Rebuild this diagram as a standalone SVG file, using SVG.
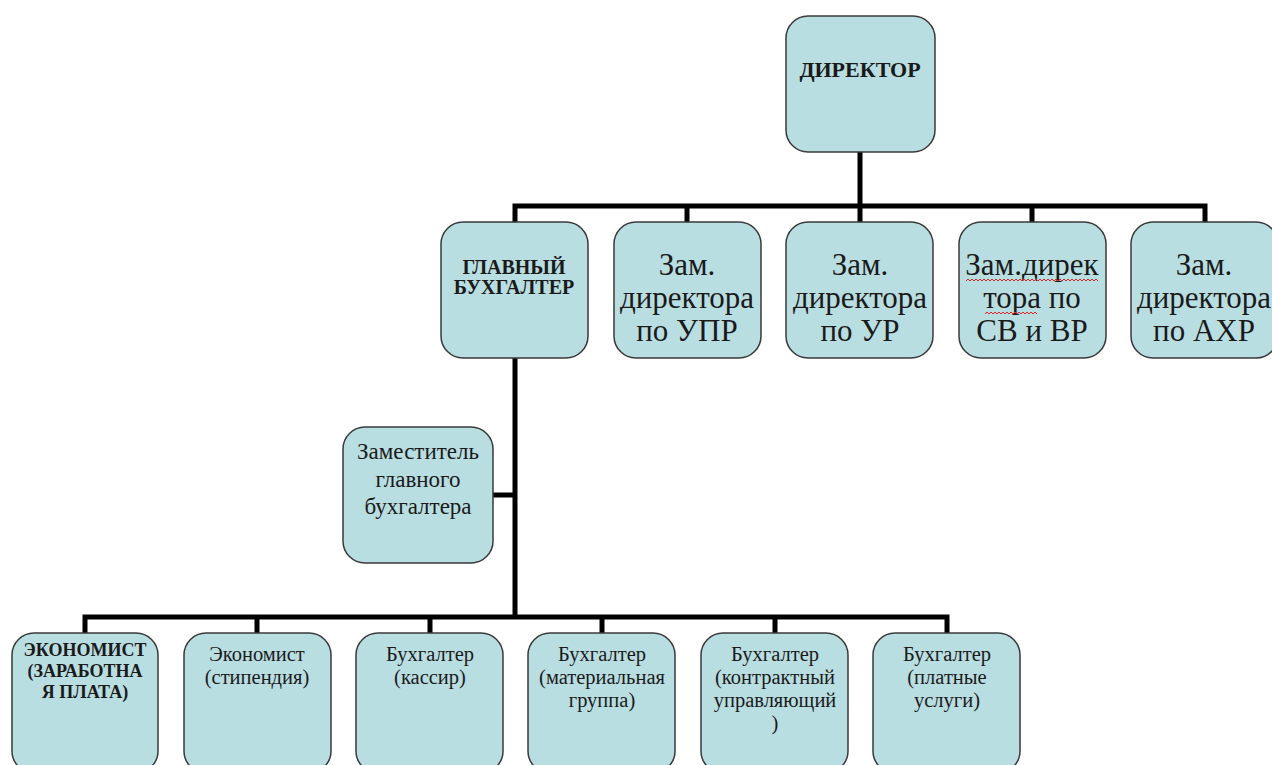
<svg xmlns="http://www.w3.org/2000/svg" width="1272" height="765" viewBox="0 0 1272 765" font-family="Liberation Serif, DejaVu Serif, Times New Roman, serif">
<style>
.box{fill:#b9dee2;stroke:#3a3a3a;stroke-width:1.5}
.t{fill:#1a1a1a;text-anchor:middle}
.b{font-weight:bold}
.big{font-size:31px}
.mid{font-size:23px}
.sm{font-size:20.5px}
.conn{fill:none;stroke:#000;stroke-width:5;stroke-linecap:square;stroke-linejoin:miter}
.sq{fill:none;stroke:#d22;stroke-width:1}
</style>
<rect width="1272" height="765" fill="#fff"/>
<g id="connectors">
<path class="conn" d="M860 152 V206 M515 206 H1205 M515 206 V222 M687 206 V222 M860 206 V222 M1032 206 V222 M1205 206 V222"/>
<path class="conn" d="M515 358 V617 M493 495 H515 M85 617 H947 M85 617 V633 M257 617 V633 M430 617 V633 M602 617 V633 M775 617 V633 M947 617 V633"/>
</g>
<g id="director"><rect class="box" x="786" y="16" width="149" height="136" rx="22"/><text class="t b" x="860" y="77" font-size="22">ДИРЕКТОР</text></g>
<g id="chief-accountant"><rect class="box" x="441" y="222" width="147" height="136" rx="22"/><text class="t b" x="514" y="274" font-size="20">ГЛАВНЫЙ</text><text class="t b" x="514" y="294" font-size="20">БУХГАЛТЕР</text></g>
<g id="dep-upr"><rect class="box" x="614" y="222" width="147" height="136" rx="22"/><text class="t big" x="687" y="275">Зам.</text><text class="t big" x="687" y="308">директора</text><text class="t big" x="687" y="341">по УПР</text></g>
<g id="dep-ur"><rect class="box" x="786" y="222" width="147" height="136" rx="22"/><text class="t big" x="860" y="275">Зам.</text><text class="t big" x="860" y="308">директора</text><text class="t big" x="860" y="341">по УР</text></g>
<g id="dep-sv"><rect class="box" x="959" y="222" width="147" height="136" rx="22"/><text class="t big" x="1032" y="275">Зам.дирек</text><text class="t big" x="1032" y="308">тора по</text><text class="t big" x="1032" y="341">СВ и ВР</text>
<path class="sq" d="M966 281 l2 -2 l2 2 l2 -2 l2 2 l2 -2 l2 2 l2 -2 l2 2 l2 -2 l2 2 l2 -2 l2 2 l2 -2 l2 2 l2 -2 l2 2 l2 -2 l2 2 l2 -2 l2 2 l2 -2 l2 2 l2 -2 l2 2 l2 -2 l2 2 l2 -2 l2 2 l2 -2 l2 2 l2 -2 l2 2 l2 -2 l2 2 l2 -2 l2 2 l2 -2 l2 2 l2 -2 l2 2 l2 -2 l2 2 l2 -2 l2 2 l2 -2 l2 2 l2 -2 l2 2 l2 -2 l2 2 l2 -2 l2 2 l2 -2 l2 2 l2 -2 l2 2 l2 -2 l2 2 l2 -2 l2 2 l2 -2 l2 2 l2 -2 l2 2 l2 -2 l2 2"/>
<path class="sq" d="M985 314 l2 -2 l2 2 l2 -2 l2 2 l2 -2 l2 2 l2 -2 l2 2 l2 -2 l2 2 l2 -2 l2 2 l2 -2 l2 2 l2 -2 l2 2 l2 -2 l2 2 l2 -2 l2 2 l2 -2 l2 2 l2 -2 l2 2 l2 -2 l2 2"/></g>
<g id="dep-ahr"><rect class="box" x="1131" y="222" width="147" height="136" rx="22"/><text class="t big" x="1204" y="275">Зам.</text><text class="t big" x="1204" y="308">директора</text><text class="t big" x="1204" y="341">по АХР</text></g>
<g id="deputy-chief"><rect class="box" x="343" y="427" width="150" height="136" rx="22"/><text class="t mid" x="418" y="459">Заместитель</text><text class="t mid" x="418" y="487">главного</text><text class="t mid" x="418" y="514">бухгалтера</text></g>
<g id="economist-salary"><rect class="box" x="12" y="633" width="146" height="140" rx="22"/><text class="t b" x="85" y="656" font-size="18">ЭКОНОМИСТ</text><text class="t b" x="85" y="677" font-size="18">(ЗАРАБОТНА</text><text class="t b" x="85" y="698" font-size="18">Я ПЛАТА)</text></g>
<g id="economist-stipend"><rect class="box" x="184" y="633" width="147" height="140" rx="22"/><text class="t sm" x="257" y="661">Экономист</text><text class="t sm" x="257" y="684">(стипендия)</text></g>
<g id="accountant-cashier"><rect class="box" x="356" y="633" width="147" height="140" rx="22"/><text class="t sm" x="430" y="661">Бухгалтер</text><text class="t sm" x="430" y="684">(кассир)</text></g>
<g id="accountant-material"><rect class="box" x="528" y="633" width="147" height="140" rx="22"/><text class="t sm" x="602" y="661">Бухгалтер</text><text class="t sm" x="602" y="684">(материальная</text><text class="t sm" x="602" y="707">группа)</text></g>
<g id="accountant-contract"><rect class="box" x="701" y="633" width="147" height="140" rx="22"/><text class="t sm" x="775" y="661">Бухгалтер</text><text class="t sm" x="775" y="684">(контрактный</text><text class="t sm" x="775" y="707">управляющий</text><text class="t sm" x="775" y="730">)</text></g>
<g id="accountant-paid"><rect class="box" x="873" y="633" width="147" height="140" rx="22"/><text class="t sm" x="947" y="661">Бухгалтер</text><text class="t sm" x="947" y="684">(платные</text><text class="t sm" x="947" y="707">услуги)</text></g>
</svg>
